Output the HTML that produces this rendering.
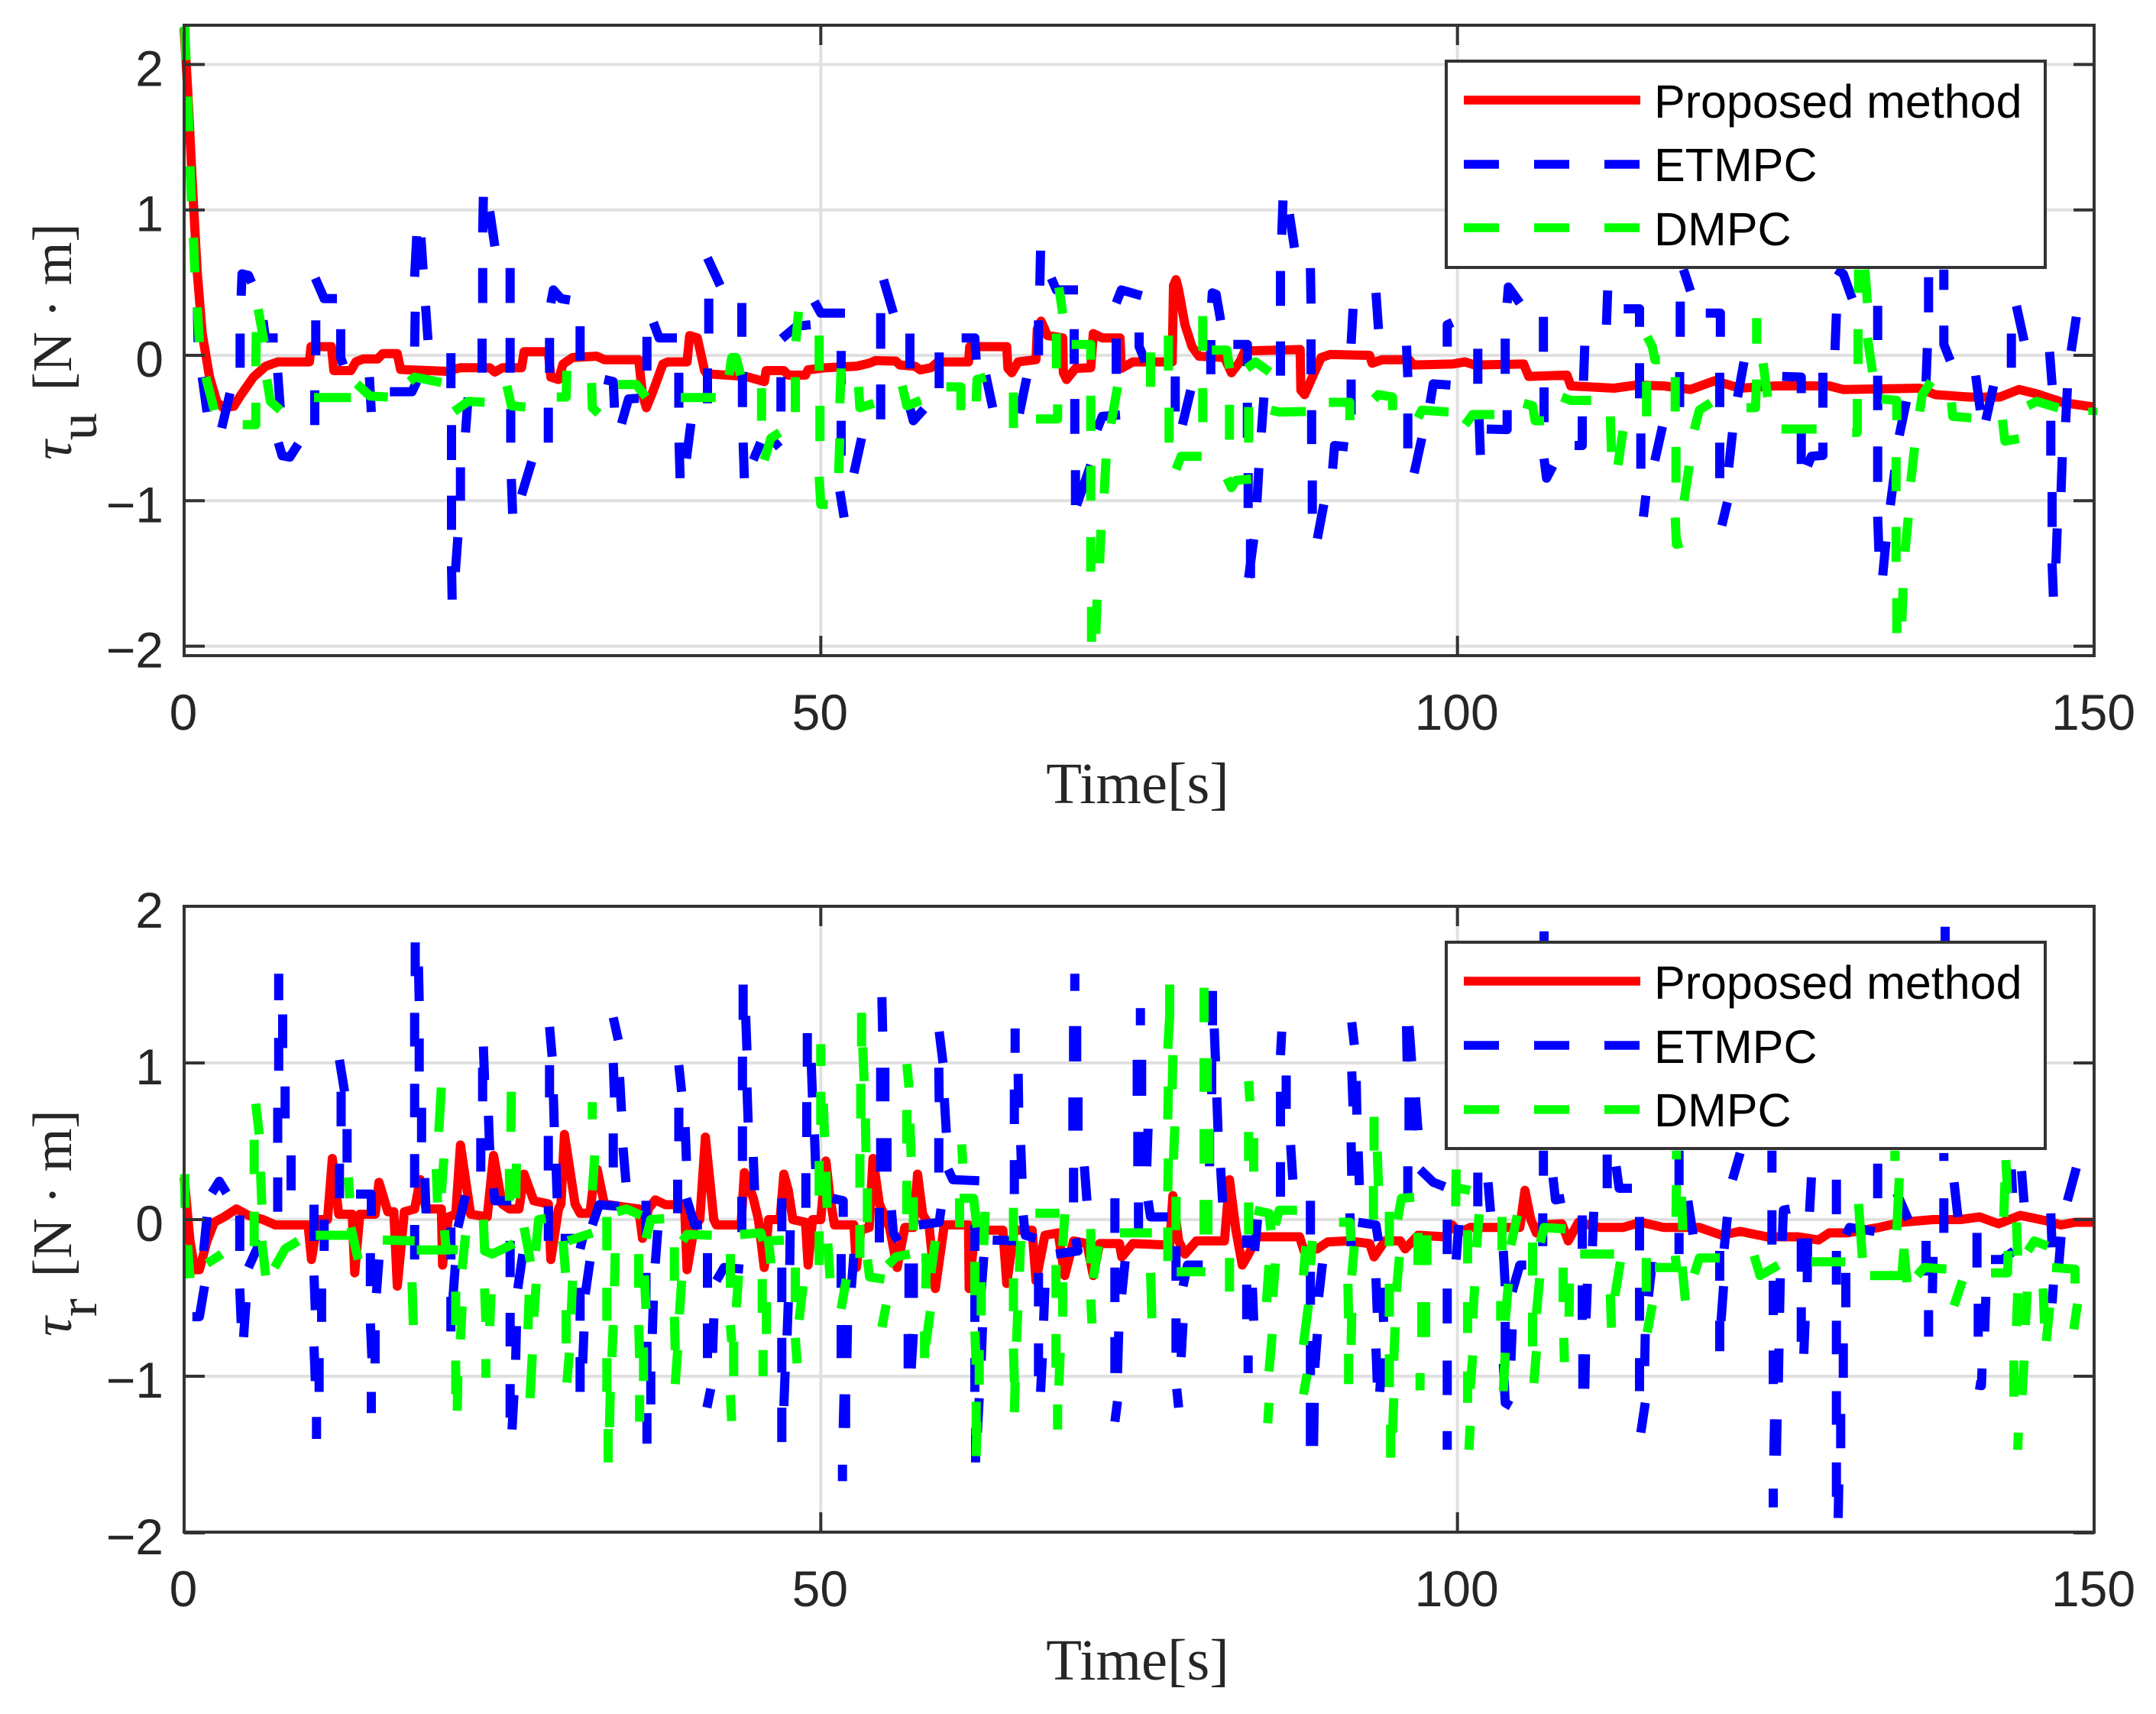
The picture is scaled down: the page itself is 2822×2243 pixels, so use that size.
<!DOCTYPE html>
<html lang="en">
<head>
<meta charset="utf-8">
<title>Control torque comparison</title>
<style>
html,body{margin:0;padding:0;background:#fff}
svg{display:block}
.tick-label{font-family:"Liberation Sans",sans-serif;font-size:66px;fill:#262626}
.axis-title{font-family:"Liberation Serif",serif;font-size:76.5px;fill:#262626}
.y-title{font-family:"Liberation Serif",serif;font-size:72px;fill:#262626}
.y-units{font-size:73px}
.legend-text{font-family:"Liberation Sans",sans-serif;font-size:61px;fill:#000}
</style>
</head>
<body>
<svg id="chart" xmlns="http://www.w3.org/2000/svg" width="2822" height="2243" viewBox="0 0 2822 2243">
<rect width="2822" height="2243" fill="#fff"/>
<g id="panel-u"></g>
<g id="panel-r"></g>

<text class="axis-title" x="1489" y="1051" text-anchor="middle">Time[s]</text>
<text class="axis-title" x="1489" y="2198" text-anchor="middle">Time[s]</text>
<text class="y-title" transform="translate(93,602) rotate(-90)"><tspan font-style="italic">τ</tspan><tspan dy="33">u</tspan><tspan class="y-units" dy="-33" dx="29">[N · m]</tspan></text>
<text class="y-title" transform="translate(93,1749) rotate(-90)"><tspan font-style="italic">τ</tspan><tspan dy="33">r</tspan><tspan class="y-units" dy="-33" dx="28">[N · m]</tspan></text>

<g>
<rect x="1893" y="80" width="784" height="270" fill="#fff" stroke="#333" stroke-width="4"/>
<line x1="1916" x2="2147" y1="131" y2="131" stroke="#f00" stroke-width="11.5"/>
<line x1="1916" x2="2147" y1="215" y2="215" stroke="#00f" stroke-width="11.5" stroke-dasharray="46 46"/>
<line x1="1916" x2="2147" y1="298" y2="298" stroke="#0f0" stroke-width="11.5" stroke-dasharray="46 46"/>
<text class="legend-text" x="2165" y="154">Proposed method</text>
<text class="legend-text" x="2165" y="237">ETMPC</text>
<text class="legend-text" x="2165" y="321">DMPC</text>
</g>
<g>
<rect x="1893" y="1233" width="784" height="270" fill="#fff" stroke="#333" stroke-width="4"/>
<line x1="1916" x2="2147" y1="1284" y2="1284" stroke="#f00" stroke-width="11.5"/>
<line x1="1916" x2="2147" y1="1368" y2="1368" stroke="#00f" stroke-width="11.5" stroke-dasharray="46 46"/>
<line x1="1916" x2="2147" y1="1452" y2="1452" stroke="#0f0" stroke-width="11.5" stroke-dasharray="46 46"/>
<text class="legend-text" x="2165" y="1307">Proposed method</text>
<text class="legend-text" x="2165" y="1391">ETMPC</text>
<text class="legend-text" x="2165" y="1474">DMPC</text>
</g>
</svg>
<script>
/* Series values: flat (time, value) pairs; null lifts the pen (dash gap). */
const xTickValues = [0, 50, 100, 150];
const yTickValuesU = [-2, -1, 0, 1, 2];
const yTickValuesR = [-2, -1, 0, 1, 2];

const proposedU = [0,2.25,.27,1.84,.65,1.18,1.03,.57,1.42,.15,2,-.15,2.57,-.32,3.06,-.36,3.9,-.35,4.48,-.27,5.44,-.15,6.4,-.075,7.35,-.045,9.84,-.045,9.96,.06,11.57,.06,11.76,-.105,13.1,-.105,13.48,-.045,14.06,-.025,15.2,-.025,15.6,.012,16.74,.012,17,-.097,20.57,-.11,21.7,-.085,24,-.085,24.4,-.115,25,-.085,26.5,-.085,26.7,.025,28.6,.025,28.8,-.15,29.4,-.166,29.76,-.06,30.5,-.015,32.4,-.006,33,-.03,35.7,-.03,36,-.27,36.3,-.36,36.85,-.24,37.6,-.06,38,-.045,39.5,-.045,39.7,.136,40.3,.12,40.87,-.105,41.05,-.127,44.1,-.145,45.57,-.18,45.7,-.105,47.1,-.105,47.45,-.136,48.8,-.136,49,-.1,50.4,-.085,52.8,-.075,53.8,-.054,54.3,-.036,55.9,-.04,56.2,-.066,57.4,-.075,57.8,-.1,58.65,-.085,59.2,-.045,61.6,-.045,61.7,.06,64.6,.06,64.7,-.09,65,-.12,65.5,-.045,66.9,-.03,67,.18,67.3,.235,67.8,.136,69,.12,69.05,-.12,69.3,-.166,70,-.09,71.2,-.085,71.4,.15,72.1,.12,73.5,.12,73.6,-.09,74.5,-.045,77.6,-.045,77.7,.48,77.9,.52,78.1,.45,78.6,.21,79.15,.06,79.7,-.006,81.7,-.015,82.25,-.12,82.9,-.045,83.3,.03,87.65,.04,87.7,-.24,88,-.27,88.6,-.15,89.3,-.015,90,.006,93.1,0,93.3,-.054,94.1,-.03,96.2,-.03,96.55,-.066,99.6,-.06,100.6,-.045,101.35,-.066,105.2,-.06,105.6,-.145,108.6,-.136,108.9,-.21,112.3,-.226,114.05,-.205,116.2,-.21,118.3,-.235,120.2,-.175,122.2,-.226,125,-.21,129.2,-.21,130.3,-.235,136.3,-.226,137.5,-.27,140.2,-.287,142.6,-.287,144.1,-.235,145.5,-.265,147.6,-.326,150,-.356];

const etmpcU = [1.03,.33,1.1,.09,null,1.42,-.15,1.8,-.39,null,3.6,-.26,2.95,-.5,null,4.48,.41,4.55,.56,5.05,.55,5.3,.5,null,4.4,.15,4.4,-.085,null,6.2,.24,6.4,.1,null,6.4,.12,7.35,.12,null,7.35,-.12,7.55,-.36,null,7.4,-.6,7.7,-.69,8.3,-.7,8.96,-.61,null,10.3,.53,11,.39,12,.39,null,10.34,.24,10.34,0,null,10.26,-.24,10.26,-.48,null,12.3,.18,12.3,-.015,12.5,-.066,null,14.55,-.15,14.7,-.39,null,16.16,-.25,17.9,-.25,18.27,-.18,null,18.1,.54,18.27,.82,null,18.6,.81,18.77,.59,null,18.1,.06,18.15,.3,null,18.96,.34,19.15,.105,null,20.95,.015,20.95,-.226,null,21,-.48,21,-.72,null,21,-.965,21,-1.2,null,21.7,-.77,21.7,-1,null,21,-1.45,21.05,-1.68,null,21.5,-1.25,21.3,-1.49,null,22.3,-.29,22.1,-.53,null,23.5,1.09,23.45,.845,null,24,.99,24.4,.75,null,23.45,.6,23.45,.36,null,23.4,.115,23.4,-.12,null,25.6,.6,25.6,.36,null,25.6,.12,25.6,-.12,null,25.65,-.37,25.65,-.6,null,25.7,-.85,25.8,-1.09,null,27.3,-.73,26.5,-.96,null,28.7,.12,28.7,-.12,null,28.6,-.36,28.6,-.6,null,28.8,.36,29,.45,29.6,.39,30.3,.38,null,31.1,.2,31.1,-.036,null,33,-.166,33.7,-.18,33.8,-.36,null,34.35,-.47,34.9,-.3,35.7,-.295,null,36.35,.127,36.35,-.105,null,36.85,.226,37.3,.12,38.7,.12,null,38.85,-.12,38.85,-.36,null,38.87,-.6,38.95,-.845,null,39.8,-.47,39.45,-.71,null,41.1,.67,42.1,.48,null,41.2,.39,41.2,.15,null,41.1,-.09,41.1,-.33,null,43.8,.36,43.8,.127,null,43.85,-.115,43.85,-.356,null,43.9,-.6,44,-.845,null,44.7,-.72,45.27,-.6,null,46.25,-.63,46.77,-.59,null,46.87,-.15,46.87,-.386,null,46.94,.115,48.1,.2,49.2,.21,null,49.5,.37,50,.29,51.9,.29,null,51.6,.03,51.6,-.2,null,51.6,-.45,51.6,-.69,null,53.2,-.57,52.6,-.81,null,51.5,-.935,51.83,-1.115,null,54.93,.52,55.7,.29,null,54.7,.29,54.7,.045,null,54.7,-.2,54.7,-.44,null,57,.15,57,-.09,null,56.9,-.33,57.27,-.45,58.1,-.37,null,59.3,.02,59.3,-.226,null,61.06,.12,62.1,.12,62.2,-.03,null,62.96,-.136,63.5,-.36,null,66.16,-.157,65.6,-.4,null,67.26,.72,67.2,.48,null,67.1,.24,67.1,0,null,68.1,.53,68.5,.45,70.2,.45,null,69.9,.18,69.9,-.06,null,69.95,-.3,69.95,-.54,null,70,-.79,70,-1.03,null,71.2,-.754,70.1,-1.03,null,71.7,-.51,72.1,-.42,73.5,-.41,null,73.2,.115,73.2,-.127,null,73.2,.36,73.6,.45,75.2,.41,null,75,.157,75,.06,75.5,-.045,null,77.84,-.145,77.84,-.386,null,79.05,-.24,78.4,-.477,null,80.7,.36,80.75,.43,81.05,.42,81.4,.24,null,80.63,.105,80.63,-.13,null,82.4,.075,83.5,.075,83.5,-.075,null,83.5,-.326,83.5,-.567,null,83.56,-.81,83.56,-1.05,null,84.4,-.775,84.25,-1.01,null,84.8,-.29,84.6,-.53,null,84,-1.265,83.6,-1.53,null,83.75,-1.265,83.75,-1.53,null,86.3,1.065,86.2,.83,null,86.8,.97,87.2,.74,null,86.1,.58,86.1,.34,null,86.1,.096,86.1,-.14,null,88.45,.6,88.5,.356,null,88.5,.11,88.5,-.13,null,88.55,-.377,88.55,-.61,null,88.6,-.86,88.6,-1.09,null,89.5,-1.025,89,-1.26,null,90.2,-.78,90.35,-.62,91.4,-.63,null,91.8,.32,91.65,.08,null,93.6,.43,93.8,.18,null,91.65,-.166,91.65,-.407,null,96,.066,96.1,-.15,null,96.1,-.4,96.1,-.64,null,97.2,-.57,96.6,-.81,null,97.85,-.33,98.1,-.196,99.45,-.205,null,99.2,.06,99.2,.21,99.6,.226,null,101.6,.045,101.6,-.196,null,101.7,-.44,101.8,-.685,null,103.9,.36,104,.47,104.9,.36,null,103.75,.115,103.75,-.127,null,103.9,-.377,103.9,-.51,102.3,-.507,null,106.75,.265,106.75,.024,null,106.8,-.22,106.8,-.46,null,106.8,-.71,107,-.845,107.5,-.76,null,110,.066,109.9,-.175,null,109.8,-.42,109.8,-.62,109.2,-.62,null,111.8,.446,111.7,.21,null,113.06,.32,114.3,.32,114.3,.196,null,114.3,-.054,114.3,-.296,null,114.4,-.537,114.4,-.78,null,116.1,-.49,115.5,-.724,null,114.8,-.965,114.6,-1.11,null,117.75,.59,118.3,.443,null,117.5,.37,117.5,.127,null,117.45,-.115,117.45,-.356,null,119.5,.29,120.65,.29,120.65,.127,null,120.6,-.12,120.6,-.356,null,120.6,-.6,120.6,-.845,null,121.6,-.53,121.3,-.77,null,121.2,-1.01,120.76,-1.17,null,122.5,-.045,122,-.287,null,125.5,-.145,127,-.15,127,-.26,null,127,-.507,127,-.748,null,127.5,-.76,127.8,-.694,128.7,-.688,128.7,-.6,null,128.7,-.12,128.7,-.36,null,129.76,.287,129.65,.036,null,129.76,.59,130.3,.56,131,.39,null,133,.34,133,.105,null,133,-.14,133,-.377,null,133,-.627,133,-.87,null,133,-1.11,133.1,-1.35,null,134.35,-.79,134,-1.03,null,133.65,-1.28,133.4,-1.514,null,135.25,-.317,134.7,-.55,null,137,.537,137,.296,null,136.9,.05,136.8,-.18,null,138.2,.59,138.2,.45,null,138.2,.205,138.2,.075,138.7,-.036,null,140.7,-.14,141.06,-.377,null,142.1,-.21,141.5,-.446,null,143.9,.34,144.5,.1,null,143.5,.15,143.5,-.085,null,146.5,.024,146.7,-.205,null,146.6,-.45,146.6,-.69,null,147.5,-.7,147.4,-.94,null,146.7,-.94,146.7,-1.18,null,147.1,-1.19,147,-1.43,null,146.7,-1.43,146.8,-1.66,null,147.9,-.226,147.76,-.46,null,148.6,.265,148.2,.03];

const dmpcU = [.05,2.26,.15,2.03,null,.27,1.78,.38,1.54,null,.46,1.3,.57,1.06,null,.73,.81,.84,.57,null,1.03,.33,1.2,.09,null,1.7,-.15,2.37,-.377,null,4.6,-.477,5.63,-.477,5.63,-.326,null,5.63,-.075,5.67,.16,null,5.82,.317,6.28,.09,null,6.5,-.166,6.78,-.317,7.55,-.377,null,10.2,-.29,13.1,-.29,null,13.56,-.196,14.6,-.28,16,-.287,null,17.7,-.18,18.1,-.15,20.2,-.187,null,21.2,-.386,22.3,-.317,23.6,-.323,null,25.35,-.21,25.7,-.347,26.8,-.356,null,29.26,-.287,30,-.287,30.06,-.106,null,32,-.19,32.06,-.36,32.55,-.4,null,34.1,-.2,35.5,-.2,36.27,-.287,null,39,-.29,41.75,-.29,null,42.8,-.136,43,-.015,43.35,-.015,43.7,-.136,null,45.35,-.226,45.35,-.45,null,45.56,-.72,46.08,-.57,46.77,-.53,null,48,-.15,48,-.39,null,48.25,.3,48.04,.096,null,49.87,.136,49.87,-.105,null,49.93,-.347,49.93,-.59,null,49.87,-.835,50,-1.025,50.55,-1.025,null,51.6,-.09,51.5,-.33,null,51.5,-.57,51.4,-.81,null,52.97,-.217,53.07,-.36,54.17,-.33,null,56.4,-.21,56.76,-.347,57.86,-.31,null,59.86,-.217,61,-.217,61,-.377,null,62.2,-.317,62.27,-.166,62.96,-.15,null,65.13,-.256,65.13,-.5,null,66.9,-.437,68.6,-.437,68.6,-.338,null,68.7,.467,69,.287,null,68.5,.15,68.5,-.09,null,69.7,.075,71.2,.075,71.2,-.03,null,71.2,-.277,71.2,-.52,null,71.2,-.76,71.2,-1,null,72.4,-.71,72.26,-.95,null,71.2,-1.25,71.2,-1.487,null,72,-1.2,71.9,-1.43,null,71.26,-1.73,71.26,-1.97,null,71.7,-1.68,71.6,-1.915,null,73.3,-.217,72.8,-.47,null,75.9,.02,75.9,-.217,null,77.3,.136,77.3,-.105,null,77.35,-.36,77.35,-.6,null,77.9,-.784,78.3,-.694,79.9,-.694,null,80,.27,80,.03,null,80,-.226,80,-.46,null,80.7,.036,81.9,.036,82.1,-.09,null,82.1,-.34,82.1,-.58,null,83.6,-.356,83.6,-.6,null,81.9,-.845,82.25,-.91,82.6,-.86,83.8,-.85,null,83.45,-.09,84.15,-.045,85.25,-.115,null,85.35,-.377,86,-.39,88.1,-.386,null,89.9,-.323,91.55,-.323,91.55,-.446,null,93.45,-.3,93.8,-.27,94.9,-.287,94.9,-.377,null,96.9,-.43,97.2,-.377,99.3,-.39,null,100.6,-.477,101.2,-.407,102.9,-.407,null,105.2,-.33,105.9,-.347,106.1,-.45,106.8,-.45,null,108.2,-.287,108.9,-.31,110.5,-.31,null,112,-.42,112.1,-.664,null,113,-.52,112.6,-.754,null,114.85,-.18,114.85,-.42,null,114.9,.127,115.3,.06,115.5,-.03,115.9,-.03,null,117.1,-.15,117.1,-.386,null,117.16,-.63,117.16,-.875,null,118.2,-.76,117.8,-1,null,117.1,-1.116,117.2,-1.3,117.65,-1.29,null,118.6,-.51,119,-.377,119.9,-.326,null,123.5,.256,123.5,.08,null,124,-.054,124.36,-.287,null,123.5,-.166,123.4,-.36,122.7,-.36,null,125.45,-.507,128.2,-.507,null,131.46,.18,131.46,-.06,null,132.2,.12,132.6,-.115,null,131.4,-.3,131.4,-.53,131,-.53,null,131.5,.59,131.5,.43,null,132,.59,132.2,.36,null,133.3,-.3,134.5,-.31,134.5,-.446,null,137.2,-.18,136.5,-.27,136.3,-.386,null,134.45,-.7,134.45,-.935,null,135.9,-.634,135.6,-.87,null,134.45,-1.18,134.45,-1.42,null,135.4,-1.116,135.15,-1.35,null,134.5,-1.67,134.5,-1.91,null,135,-1.6,134.9,-1.83,null,138.8,-.323,138.9,-.42,140.35,-.43,null,142.8,-.443,143,-.59,144.1,-.573,null,144.8,-.347,145.5,-.317,147.2,-.362,null,149.9,-.36,149.9,-.41];

const proposedR = [0,.27,.46,-.136,.84,-.32,1.2,-.32,1.8,-.136,2.37,-.017,3.14,.017,4.1,.068,5.05,.027,6.2,0,7.16,-.034,9.73,-.034,10,-.255,10.5,0,11.26,0,11.64,.39,12.14,.034,13.2,.034,13.4,-.34,13.8,.034,15,.034,15.3,.238,16,.05,16.47,.05,16.74,-.425,17.3,.05,18.1,.068,18.54,.255,19,.068,20.2,.068,20.3,-.29,20.76,.017,21.33,.034,21.7,.476,22.5,.034,23.8,.017,24.3,.41,24.97,.1,25.55,.068,26.3,.068,26.7,.29,27.46,.12,28.6,.1,28.8,-.255,29.4,.068,29.6,.1,29.87,.544,30.7,.1,31.1,.04,31.87,.04,32.06,.17,32.44,.32,33,.1,34.16,.085,35.7,.068,36,-.12,36.46,.068,37,.126,37.8,.095,39.3,.095,39.5,-.32,40.1,-.034,40.5,0,40.94,.527,41.6,0,41.8,-.034,43.74,-.034,44,.3,44.7,.136,45.1,0,45.56,-.306,45.9,0,46.8,0,47.1,.29,47.45,.187,47.8,0,48.8,-.017,49,-.29,49.35,0,50,0,50.4,.374,50.73,.136,51.07,-.034,52.6,-.034,52.8,-.306,53.14,-.068,53.8,-.05,54.1,.39,54.6,.1,55.4,-.05,56,-.306,56.6,-.05,57.27,-.05,57.6,.29,58,.034,58.5,-.034,59,-.44,59.7,-.034,61.6,-.034,61.65,-.44,62.1,-.068,64.3,-.068,64.6,-.408,65.2,-.068,66.6,-.068,66.9,-.39,67.6,-.1,68.64,-.085,69.16,-.357,69.85,-.136,70.9,-.153,71.4,-.357,71.9,-.153,73.46,-.153,73.64,-.238,74.5,-.153,77.4,-.163,77.65,.153,78.1,-.136,78.6,-.22,79.5,-.136,81.7,-.136,82.1,.255,82.6,-.068,83.1,-.29,83.6,-.22,84.3,-.11,87.6,-.11,87.95,-.2,89,-.187,89.8,-.143,91.4,-.136,93.1,-.153,93.45,-.238,94.3,-.136,95.5,-.136,95.9,-.187,96.9,-.1,99,-.11,99.58,-.034,100.1,-.085,101,-.05,104.9,-.05,105.3,.187,105.76,0,106.2,-.085,106.6,-.034,108.2,-.027,108.7,-.136,109.5,-.017,111.2,-.05,113,-.05,114.4,-.017,116.2,-.05,119,-.05,120.76,-.1,122.2,-.075,124.3,-.11,126.76,-.11,128.35,-.13,129.2,-.085,130.6,-.085,133.1,-.05,134.9,-.017,137.35,0,139.5,0,141,.017,142.5,-.027,144.2,.027,146.2,-.007,147.4,-.034,148.5,-.017,150,-.017];

const etmpcR = [1.8,.017,1.53,-.2,null,1.6,-.425,1.2,-.62,.65,-.62,null,2.18,.17,2.76,.245,3.33,.17,null,4.37,.027,4.37,-.2,null,4.37,-.44,4.48,-.66,null,4.86,-.527,4.67,-.75,null,5.05,-.306,6,-.136,null,7.35,.05,7.35,.27,null,8.4,.41,8.4,.187,null,7.35,.49,7.35,.714,null,7.93,.646,7.93,.85,null,7.43,.95,7.43,1.16,null,7.74,1.095,7.74,1.31,null,7.43,1.4,7.43,1.57,null,10.2,.095,10.2,-.136,null,11,0,11,-.2,null,10.2,-.357,10.3,-.578,null,10.8,-.44,10.8,-.653,null,10.2,-.81,10.3,-1.03,null,10.6,-.884,10.6,-1.1,null,10.4,-1.26,10.4,-1.4,null,12.2,1.02,12.6,.816,null,12.33,.816,12.33,.595,null,12.8,.578,12.8,.364,null,12.2,.357,12.2,.136,null,13.5,.163,14.7,.163,14.7,.024,null,14.63,-.214,14.63,-.425,null,15.3,-.255,15.1,-.47,null,14.63,-.663,14.75,-.884,null,15,-.707,15,-.918,null,14.7,-1.1,14.7,-1.235,null,18.15,1.77,18.15,1.554,null,18.4,1.616,18.46,1.395,null,18.1,1.32,18.1,1.105,null,18.46,1.156,18.46,.945,null,18.1,.867,18.1,.653,null,18.65,.714,18.65,.493,null,18.1,.418,18.1,.204,null,18.9,.265,19,.04,null,18.1,-.034,18.1,-.255,null,20.95,-.05,20.95,-.255,null,22.1,.153,21.5,-.05,null,21.3,-.29,21.1,-.51,null,20.95,-.493,20.95,-.714,null,23.5,1.105,23.6,.89,null,23.44,.97,23.44,.755,null,23.9,.663,24,.442,null,23.3,.52,23.3,.306,null,24.3,.2,24.4,.12,25.7,.12,null,25.6,-.136,25.6,-.367,null,26.6,-.22,26.2,-.44,null,25.6,-.595,25.6,-.81,null,26.1,-.68,26.04,-.895,null,25.6,-1.05,25.6,-1.265,null,25.9,-1.12,25.75,-1.34,null,28.7,1.23,28.9,1.04,null,28.7,.986,28.7,.78,null,29,.8,29.07,.59,null,28.6,.534,28.6,.313,null,29.2,.357,29.3,.136,null,28.6,.085,28.6,-.136,null,29.57,-.12,31.3,-.12,31.1,-.187,null,32.06,-.034,32.6,.095,34.16,.085,null,31.87,-.265,31.5,-.476,null,31.1,-.435,31.1,-.646,null,31.4,-.714,31.3,-.918,null,31.1,-.878,31.1,-1.1,null,33.7,1.29,34.1,1.146,null,33.7,1,33.8,.78,null,34.2,.91,34.35,.69,null,33.7,.55,33.7,.333,null,34.47,.46,34.7,.238,null,36.27,.12,36.27,-.11,null,37.2,-.068,37,-.28,null,36.27,-.34,36.27,-.554,null,36.85,-.517,36.77,-.73,null,36.35,-.78,36.35,-1,null,36.65,-.97,36.65,-1.18,null,36.35,-1.235,36.35,-1.43,null,38.85,.986,39.07,.816,null,38.85,.714,38.85,.5,null,39.35,.59,39.45,.374,null,38.76,.255,38.76,.04,null,39.45,.136,40.1,-.034,40.67,-.034,null,41.1,-.214,41.1,-.435,null,41.8,-.39,42.4,-.306,43.9,-.316,null,41.1,-.663,41.1,-.884,null,41.6,-.63,41.5,-.85,null,41.36,-1.08,41.06,-1.2,null,43.9,1.5,43.9,1.275,null,44.1,1.3,44.2,1.08,null,43.85,1.04,43.85,.826,null,44.2,.843,44.3,.62,null,43.85,.595,43.85,.374,null,44.7,.4,44.8,.187,null,43.8,.146,43.8,-.08,null,46.94,.136,46.94,-.075,null,47.6,-.068,47.56,-.29,null,46.94,-.306,46.94,-.527,null,47.45,-.527,47.35,-.74,null,46.94,-.755,46.94,-.976,null,47.2,-.97,47.1,-1.19,null,46.94,-1.2,46.94,-1.42,null,48.94,1.19,48.94,.976,null,49.25,1,49.35,.78,null,48.9,.75,48.9,.527,null,49.5,.544,49.6,.323,null,48.83,.296,48.83,.075,null,50.9,.136,51.76,.12,51.76,.017,null,51.6,-.22,51.6,-.435,null,52.6,-.22,52.4,-.435,null,51.6,-.673,51.6,-.884,null,52.1,-.673,52.05,-.884,null,51.83,-1.115,51.76,-1.33,null,51.95,-1.115,51.95,-1.33,null,51.7,-1.565,51.7,-1.67,null,54.8,1.42,54.86,1.2,null,54.7,.97,54.7,.755,null,55.03,.97,55.03,.755,null,54.7,.52,54.7,.306,null,55.2,.52,55.2,.306,null,54.6,.075,54.6,-.146,null,55.55,.06,55.7,-.085,56.07,-.136,null,57.27,-.28,57.27,-.5,null,56.93,-.28,56.93,-.5,null,57.27,-.73,57.1,-.95,null,56.86,-.73,56.86,-.95,null,57.7,-.034,59.3,-.017,59.44,.068,null,59.3,1.2,59.6,1,null,59.27,.97,59.3,.75,null,59.7,.775,59.86,.554,null,59.27,.52,59.27,.3,null,60,.32,60.37,.255,62.44,.248,null,62.1,-.034,62.1,-.2,null,62.8,-.238,62.6,-.46,null,62.1,-.44,62.1,-.653,null,62.7,-.687,62.6,-.9,null,62.1,-.884,62.1,-1.1,null,62.44,-1.14,62.3,-1.36,null,62.16,-1.33,62.16,-1.55,null,63.5,-.13,65.37,-.136,null,65.26,1.22,65.26,1.065,null,65.5,.93,65.54,.714,null,65.2,.83,65.2,.61,null,65.7,.476,65.8,.26,null,65.2,.38,65.2,.163,null,65.9,.027,66.06,-.1,66.9,-.12,null,67.1,-.34,67.1,-.554,null,67.6,-.435,67.5,-.646,null,67.1,-.79,67.1,-1,null,67.4,-.884,67.26,-1.1,null,68.47,-.22,70.2,-.2,70,-.12,null,69.95,1.57,69.95,1.46,null,70.1,1.235,70.1,1.01,null,69.85,1.235,69.85,1.01,null,70.2,.78,70.2,.568,null,69.8,.78,69.8,.568,null,69.85,.33,69.85,.11,null,70.7,.34,70.9,.12,null,73.1,.136,73.1,-.085,null,73.1,-.306,73.1,-.527,null,73.9,-.265,73.64,-.476,null,73.4,-.714,73.3,-.98,null,73.1,-.75,73.1,-.98,null,73.3,-1.16,73.1,-1.29,null,75.1,1.35,75.1,1.24,null,75.2,1.02,75.2,.79,null,74.85,1.02,74.85,.79,null,75.2,.56,75.2,.34,null,75.7,.58,75.6,.34,null,74.9,.56,74.9,.34,null,74.95,.11,74.95,-.1,null,75.7,.12,75.9,.017,77.25,.017,null,77.9,-.17,77.9,-.39,null,78.45,-.425,78.8,-.29,80,-.29,null,77.9,-.63,77.9,-.85,null,78.45,-.66,78.3,-.878,null,77.95,-1.08,78.1,-1.2,null,80.76,1.46,80.76,1.24,null,80.9,1.22,81,1.01,null,81.1,.78,81.2,.56,null,80.7,1.02,80.7,.8,null,80.53,.56,80.53,.34,null,81.4,.33,81.56,.11,null,83.45,-.1,83.45,-.18,null,84.3,0,84.07,-.2,null,83.45,-.415,83.45,-.636,null,83.9,-.435,84,-.646,null,83.56,-.867,83.56,-.98,null,86.2,1.2,86.1,1.05,null,86.55,.92,86.55,.707,null,86.1,.816,86.1,.595,null,86.9,.476,87.07,.255,null,86.1,.367,86.1,.146,null,88.45,.12,88.45,-.095,null,88.45,-.333,88.45,-.544,null,89.4,-.28,89.1,-.493,null,88.45,-.775,88.45,-.993,null,89,-.73,88.8,-.945,null,88.45,-1.17,88.45,-1.445,null,88.75,-1.17,88.7,-1.445,null,91.7,1.26,91.9,1.115,null,91.7,.946,91.8,.724,null,92.05,.885,92.1,.67,null,91.65,.493,91.7,.28,null,92.2,.435,92.3,.22,null,91.55,.04,91.65,-.17,null,92.2,-.017,93.6,-.034,93.8,-.136,null,93.6,-.374,93.7,-.595,null,94.1,-.435,94.2,-.653,null,93.6,-.823,93.7,-1.04,null,94.06,-.884,93.9,-1.1,null,96.2,1.235,96.4,1.01,null,96,1.235,96.05,1.01,null,96.2,.78,96.2,.57,null,96.7,.78,96.9,.57,null,96.1,.34,96.1,.12,null,97.06,.32,98.1,.238,99,.21,null,99.2,0,99.2,-.22,null,99.2,-.44,99.2,-.663,null,99.2,-.9,99.2,-1.12,null,99.2,-1.35,99.2,-1.47,null,106.8,1.84,106.8,1.77,null,106.75,.44,106.75,.28,null,106.7,.04,106.7,-.17,null,107.5,.27,107.7,.126,108.4,.136,null,111.76,.415,111.76,.2,null,112.46,.34,112.7,.2,113.7,.2,null,101.6,.3,101.6,.085,null,102.4,.238,102.6,.05,null,100.1,-.034,99.9,-.255,null,103.6,-.2,103.75,-.425,null,103.75,-.653,103.75,-.867,null,104.3,-.7,104.2,-.9,null,103.6,-.92,103.75,-1.17,104.2,-1.19,null,104.3,-.46,104.9,-.29,105.4,-.29,null,109.8,.027,109.8,-.187,null,110.7,.05,110.6,-.17,null,110.2,-.41,110.1,-.63,null,109.8,-.42,109.8,-.64,null,110.06,-.86,110,-1.08,null,109.85,-.86,109.85,-1.08,null,114.3,.017,114.3,-.197,null,115.3,-.27,115,-.49,null,114.3,-.435,114.3,-.646,null,114.75,-.73,114.7,-.935,null,114.3,-.884,114.3,-1.095,null,114.75,-1.17,114.4,-1.36,null,117.4,.44,117.4,.22,null,117.4,-.085,117.4,-.22,null,118.1,.12,118.5,-.095,null,121.6,.255,122.2,.425,null,121.2,.017,120.94,-.187,null,120.6,-.2,120.6,-.39,null,120.9,-.425,120.7,-.646,null,120.6,-.646,120.6,-.84,null,124.7,.44,124.7,.3,null,124.7,.06,124.7,-.16,null,125.5,-.136,125.6,.06,126.1,.068,null,124.8,-.39,124.8,-.61,null,125.35,-.374,125.3,-.595,null,124.8,-.835,124.8,-1.05,null,125.25,-.823,125.2,-1.04,null,124.9,-1.275,124.85,-1.507,null,125.1,-1.275,125.05,-1.507,null,124.8,-1.717,124.8,-1.837,null,127,-.12,127,-.333,null,127.5,-.12,127.47,-.4,null,127,-.56,127,-.78,null,127.3,-.646,127.2,-.857,null,127.65,.05,127.8,.27,null,129.76,.255,129.76,.034,null,129.76,-.2,129.76,-.415,null,130.5,-.34,130.5,-.56,null,129.76,-.646,129.76,-.86,null,130.3,-.79,130.3,-1.01,null,129.76,-1.095,129.76,-1.31,null,130.1,-1.24,130.1,-1.46,null,129.76,-1.55,129.76,-1.77,null,129.95,-1.69,129.9,-1.905,null,130.5,-.095,130.8,-.05,132.76,-.075,null,133,.357,133,.136,null,134.5,.17,135.4,0,null,136.8,-.136,136.8,-.357,null,137.35,-.238,137.3,-.47,null,137,-.578,137,-.748,null,138.2,.425,138.2,.374,null,138.3,1.87,138.3,1.77,null,138.2,.136,138.2,-.085,null,139,.238,139.3,.017,null,140.8,-.085,140.8,-.306,null,141.5,-.493,141.4,-.714,null,140.9,-.537,140.9,-.748,null,141.2,-.95,141.15,-1.06,140.7,-1.054,null,141.9,-.255,142.8,-.255,143.7,-.2,null,143.6,.17,143.5,.32,null,144.3,.31,144.5,.11,null,146.6,.04,146.7,-.177,null,147.4,-.11,147.2,-.32,null,146.8,-.415,146.7,-.534,null,148.6,.33,147.9,.12];

const dmpcR = [.04,.29,.08,.075,null,.27,-.163,.46,-.374,null,1.8,-.28,2.95,-.22,null,5.63,.74,5.9,.544,null,5.5,.51,5.5,.29,null,6,.306,6.1,.095,null,5.5,.05,5.5,-.17,null,6.1,-.136,6.4,-.357,null,7.1,-.306,7.93,-.187,8.96,-.136,null,12.9,.27,13,.136,null,10.34,-.1,13.1,-.1,null,13.1,-.05,13.67,-.255,null,15.6,-.13,18.1,-.136,null,18.27,-.194,20.95,-.194,null,20.45,-.068,20.57,-.187,21.5,-.194,null,20.2,.843,20,.56,null,20.4,.39,20.2,.17,null,19.8,.323,19.9,.11,null,22.1,-.1,21.83,-.316,null,17.9,-.4,18,-.673,null,21.33,-.46,21.33,-.673,null,21.83,-.554,21.7,-.765,null,21.33,-.9,21.33,-1.115,null,21.5,-1,21.45,-1.22,null,23.6,-.44,23.7,-.653,null,24.1,-.476,24,-.68,null,23.7,-.89,23.7,-1.01,null,23.5,0,23.6,-.2,24.2,-.22,25.9,-.153,null,25.7,.816,25.66,.56,null,26.1,.357,26.04,.136,null,25.55,.323,25.55,.12,null,26.7,-.05,27.2,-.27,null,27.6,-.2,27.84,0,28.4,.007,null,27.65,-.41,27.46,-.62,null,27.1,-.48,27,-.7,null,27.35,-.86,27.16,-1.14,null,29.76,-.136,29.95,-.34,null,30.15,-.136,32.06,-.085,null,30.5,-.39,30.4,-.605,null,30,-.578,30,-.79,null,30.26,-.85,30.06,-1.04,null,32.06,.75,32.06,.64,null,32.25,.41,32.06,.187,null,33.2,.017,33.2,-.197,null,33.86,-.214,33.8,-.425,null,33.2,-.435,33.2,-.646,null,33.7,-.673,33.6,-.878,null,33.2,-.884,33.2,-1.1,null,33.47,-1.1,33.4,-1.326,null,33.3,-1.337,33.3,-1.55,null,34,.05,34.74,.068,35.9,.027,null,35.7,-.22,35.7,-.435,null,36.15,-.357,36.27,-.57,null,35.7,-.673,35.77,-.884,null,36.08,-.816,36.08,-1.03,null,35.77,-1.12,35.77,-1.29,null,36.27,-.12,36.65,0,37.7,.007,null,38.5,-.177,38.5,-.39,null,39.07,-.39,38.9,-.605,null,38.5,-.62,38.57,-.833,null,38.76,-.833,38.57,-1.05,null,39.15,-.136,39.5,-.095,41.44,-.1,null,42.9,-.22,42.9,-.435,null,43.55,-.357,43.36,-.56,null,42.9,-.673,43,-.78,null,43.16,-.78,43.16,-1,null,42.9,-1.12,43,-1.286,null,43.66,-.095,45.3,-.085,45.46,-.136,null,45.4,-.38,45.4,-.595,null,45.46,-.833,45.46,-1,null,46.08,-.28,45.9,-.136,47.1,-.13,null,45.73,-.527,45.73,-.73,null,48,-.306,48,-.527,null,48.6,-.425,48.3,-.64,null,48,-.755,48.14,-.918,null,50,1.12,50,.98,null,50,.816,50,.605,null,50.2,.74,50.3,.527,null,49.87,.374,49.87,.153,null,50.4,.306,50.5,.075,null,49.87,-.075,49.87,-.29,null,50.55,-.153,50.73,-.374,null,52,-.38,51.6,-.57,null,53.2,1.32,53.2,1.105,null,53.3,1.1,53.4,.884,null,53.14,.867,53.14,.646,null,53.5,.646,53.55,.43,null,53.07,.418,53.07,.204,null,53.66,.2,53.66,-.017,null,53.07,-.034,53.07,-.245,null,53.66,-.255,53.83,-.367,55,-.38,null,55.27,-.29,55.9,-.238,57,-.22,null,55.14,-.544,54.8,-.687,null,56.76,.993,56.93,.843,null,56.76,.7,56.76,.486,null,57,.612,57.1,.4,null,56.76,.248,56.76,.034,null,57.27,.143,57.27,-.068,null,57.9,-.245,58.3,-.245,58.24,-.44,null,58.6,-.585,58.24,-.8,null,58.15,-.714,58.15,-.884,null,59,-.136,58.65,-.34,null,61.06,.48,61.15,.357,null,60.9,.136,60.9,-.05,null,60.9,.136,62,.136,62.27,-.05,null,62.9,.05,62.8,-.163,null,62.1,-.27,62.1,-.483,null,62.6,-.4,62.6,-.612,null,62.1,-.714,62.2,-.925,null,62.44,-.833,62.44,-1.054,null,62.2,-1.163,62.2,-1.378,null,62.27,-1.29,62.2,-1.51,null,65.13,.075,65.13,-.136,null,65.7,-.136,65.6,-.333,null,65.13,-.374,65.13,-.585,null,65.47,-.578,65.37,-.78,null,65.13,-.823,65.2,-1.037,null,65.26,-1.037,65.2,-1.23,null,66.85,.04,68.74,.04,null,69.16,.034,69,-.17,null,68.47,-.29,68.47,-.5,null,69,-.4,69,-.62,null,68.47,-.73,68.47,-.945,null,68.8,-.85,68.7,-1.06,null,68.6,-1.18,68.6,-1.34,null,71.2,-.06,71.2,-.28,null,71.8,-.17,71.4,-.374,null,71.2,-.51,71.3,-.663,null,73.5,-.085,76,-.085,null,75.9,-.34,76,-.63,null,77.4,1.5,77.4,1.28,null,77.4,1.3,77.25,1.09,null,77.65,1.05,77.6,.833,null,77.3,.85,77.25,.64,null,77.8,.595,77.7,.384,null,77.3,.39,77.25,.18,null,77.9,.146,77.9,-.068,null,77.25,-.05,77.25,-.265,null,77.95,-.333,80.2,-.333,null,80.1,1.48,80.1,1.26,null,80.1,1.03,80.1,.816,null,80.35,1.03,80.35,.816,null,80.1,.578,80.1,.357,null,80.5,.578,80.5,.357,null,80.1,.126,80.1,-.095,null,80.4,.126,80.4,-.095,null,82.1,-.245,82.1,-.46,null,83.6,.884,83.7,.755,null,83.6,.56,83.6,.374,null,84,.52,84,.306,null,83.6,.11,83.6,-.095,null,84.07,.06,85.2,.04,85.35,-.068,null,85.2,-.29,85,-.527,null,85.7,-.28,85.5,-.493,null,85.45,-.73,85.2,-.97,null,85.2,-1.17,85.1,-1.3,null,85.7,-.034,86,.06,87.4,.06,null,93.45,.656,93.45,.44,null,93.7,.435,93.8,.214,null,93.4,.214,93.4,0,null,94.65,.05,94.65,-.17,null,95.3,0,95.6,.136,96.6,.143,null,94.65,-.41,94.65,-.62,null,95.44,-.238,95.2,-.46,null,95.1,-.687,95,-.9,null,94.65,-.86,94.65,-1.07,null,95,-1.14,94.9,-1.36,null,94.75,-1.31,94.75,-1.52,null,90.7,-.017,91.55,-.017,91.65,-.136,null,91.4,-.41,91.45,-.63,null,91.9,-.17,91.7,-.357,null,91.7,-.595,91.65,-.8,null,91.45,-.857,91.45,-1.05,null,88.1,-.17,87.9,-.357,null,88.3,-.544,87.9,-.8,null,88.2,-.986,87.9,-1.116,null,88.6,-.136,88.45,-.29,null,96.9,-.085,96.9,-.29,null,97.6,-.1,97.6,-.29,null,97.2,-.527,97.2,-.75,null,97.5,-.527,97.5,-.75,null,97.06,-.98,97.06,-1.09,null,99.9,.32,99.86,.085,null,100.1,.2,101,.187,null,101.7,.034,101.5,-.177,null,100.8,-.068,100.8,-.28,null,101.35,-.425,101.2,-.63,null,100.8,-.527,100.8,-.724,null,101.2,-.867,101,-1.08,null,100.8,-.97,100.8,-1.17,null,101,-1.316,100.9,-1.47,null,103.5,.017,103.5,-.197,null,104.7,.027,104.2,-.163,null,104,-.41,103.75,-.646,null,103.4,-.52,103.4,-.646,null,103.75,-.85,103.6,-1.095,null,105.9,-.146,105.9,-.357,null,106.46,-.374,106.2,-.6,null,105.9,-.595,105.9,-.81,null,106.2,-.84,106,-1.044,null,106.5,-.146,106.8,-.05,108.5,-.06,null,108.3,-.306,108.3,-.527,null,108.8,-.408,108.76,-.62,null,108.35,-.755,108.4,-.91,null,109.64,-.22,112.3,-.22,null,112.8,-.27,112.36,-.486,null,112,-.476,112.1,-.69,null,114.83,-.245,114.83,-.46,null,115.3,-.544,114.9,-.72,null,115.5,-.306,117.2,-.306,117.1,-.23,null,117.2,.22,117.16,.017,null,117.6,.146,117.7,-.068,null,117.2,.44,117.2,.384,null,117.65,-.3,117.9,-.517,null,118.6,-.347,119,-.245,120.6,-.245,null,123.3,-.23,123.76,-.357,125.2,-.29,null,127.8,-.27,130.46,-.27,null,131.5,.1,131.8,-.245,null,132.4,-.357,134.9,-.357,135.06,-.187,null,135.06,-.187,135.3,-.4,null,134.7,.265,134.5,-.068,null,134.35,.44,134.35,.374,null,136.1,-.357,136.65,-.306,138.4,-.316,null,139.65,-.39,139,-.55,null,141.9,-.34,143.2,-.34,143.25,-.2,null,143.07,.38,143.2,.17,null,143,.238,142.9,.017,null,143.9,-.017,144,-.23,null,144.8,-.2,145.3,-.136,146.35,-.17,null,144,-.47,143.9,-.68,null,144.75,-.46,144.6,-.673,null,143.7,-.9,143.7,-1.13,null,144.5,-.9,144.34,-1.12,null,144.05,-1.36,144,-1.47,null,146,-.44,146.1,-.663,null,146.5,-.56,146.25,-.775,null,146.7,-.306,148.5,-.316,148.5,-.408,null,148.7,-.537,148.4,-.7];

const NS = 'http://www.w3.org/2000/svg';
const plotLeft = 241, plotRight = 2741;
const tMin = 0, tMax = 150;
function xAxis(t) { return plotLeft + (t - tMin) / (tMax - tMin) * (plotRight - plotLeft); }
function yAxisU(v) { return 465 - 190.3 * v; }
function yAxisR(v) { return 1596 - 205 * v; }

function svgEl(tag, attrs, parent) {
  const el = document.createElementNS(NS, tag);
  for (const k in attrs) el.setAttribute(k, attrs[k]);
  parent.appendChild(el);
  return el;
}

function seriesPath(pairs, yAxis) {
  let d = '', pen = false;
  for (let i = 0; i < pairs.length;) {
    if (pairs[i] === null) { pen = false; i += 1; continue; }
    d += (pen ? 'L' : 'M') + xAxis(pairs[i]).toFixed(1) + ' ' + yAxis(pairs[i + 1]).toFixed(1);
    pen = true;
    i += 2;
  }
  return d;
}

function drawPanel(group, top, bottom, yAxis, yTicks, series, key) {
  for (const v of yTicks) {
    const yp = yAxis(v);
    if (yp > top + 2 && yp < bottom - 2) {
      const grid = svgEl('line', { x1: plotLeft, x2: plotRight, y1: yp, y2: yp, stroke: '#e0e0e0', 'stroke-width': 4 }, group);
      
      
    }
  }
  for (const t of xTickValues) {
    const xp = xAxis(t);
    if (t > tMin && t < tMax) {
      const grid = svgEl('line', { x1: xp, x2: xp, y1: top, y2: bottom, stroke: '#e0e0e0', 'stroke-width': 4 }, group);
      
      
    }
  }
  for (const s of series) {
    const line = svgEl('path', { d: seriesPath(s.pairs, yAxis), fill: 'none', stroke: s.color, 'stroke-width': 12, 'stroke-linejoin': 'round', 'stroke-linecap': 'butt' }, group);
    
    
  }
  const box = svgEl('rect', { x: plotLeft, y: top, width: plotRight - plotLeft, height: bottom - top, fill: 'none', stroke: '#333', 'stroke-width': 4 }, group);
  
  
  for (const v of yTicks) {
    const yp = yAxis(v);
    const tl = svgEl('path', { d: 'M' + plotLeft + ' ' + yp + 'h27M' + plotRight + ' ' + yp + 'h-27', stroke: '#333', 'stroke-width': 4, fill: 'none' }, group);
    
    
    const label = svgEl('text', { x: 214, y: yp + 28, 'text-anchor': 'end', class: 'tick-label' }, group);
    label.textContent = v < 0 ? '\u2212' + Math.abs(v) : String(v);
    
    
  }
  for (const t of xTickValues) {
    const xp = xAxis(t);
    const tl = svgEl('path', { d: 'M' + xp + ' ' + top + 'v26M' + xp + ' ' + bottom + 'v-26', stroke: '#333', 'stroke-width': 4, fill: 'none' }, group);
    
    
    const label = svgEl('text', { x: xp - 1, y: bottom + 97, 'text-anchor': 'middle', class: 'tick-label' }, group);
    label.textContent = String(t);
    
    
  }
}

drawPanel(document.getElementById('panel-u'), 33, 858, yAxisU, yTickValuesU, [
  { pairs: proposedU, color: '#f00', name: 'proposed-line' },
  { pairs: etmpcU, color: '#00f', name: 'etmpc-line' },
  { pairs: dmpcU, color: '#0f0', name: 'dmpc-line' }
], 'tau-u');
drawPanel(document.getElementById('panel-r'), 1186, 2005, yAxisR, yTickValuesR, [
  { pairs: proposedR, color: '#f00', name: 'proposed-line' },
  { pairs: etmpcR, color: '#00f', name: 'etmpc-line' },
  { pairs: dmpcR, color: '#0f0', name: 'dmpc-line' }
], 'tau-r');
</script>
</body>
</html>
